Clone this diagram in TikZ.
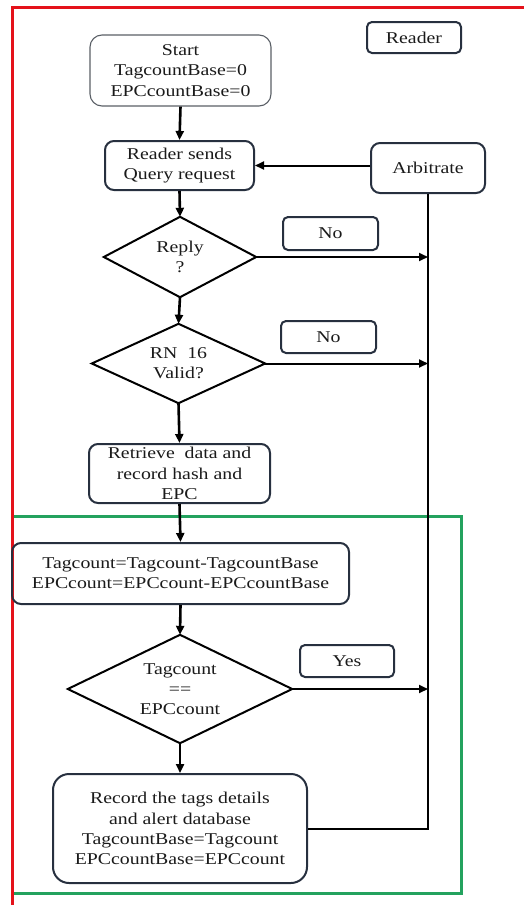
\documentclass[tikz,border=0pt]{standalone}
\usepackage{fontspec}
\setmainfont{Liberation Serif}[FakeStretch=1.2]
\usetikzlibrary{arrows.meta}
\definecolor{boxline}{HTML}{27303F}
\definecolor{startline}{HTML}{5A5F66}
\definecolor{txt}{HTML}{1A1A1A}
\definecolor{frameRed}{HTML}{E4121A}
\definecolor{frameGreen}{HTML}{23A25E}
\tikzset{
  every node/.style={font=\fontsize{16.5}{20.3}\selectfont, text=txt, align=center, inner sep=0pt},
  procbox/.style={draw=boxline, line width=2pt, rounded corners=9pt},
  startbox/.style={draw=startline, line width=1.1pt, rounded corners=12pt},
  labelbox/.style={draw=boxline, line width=2pt, rounded corners=5pt},
  decision/.style={draw=none},
  flow/.style={line width=2.6pt, -{Triangle[length=9pt,width=8pt]}},
  sideflow/.style={line width=2pt, -{Triangle[length=9pt,width=8pt]}},
  bus/.style={line width=2pt},
}
\begin{document}
\begin{tikzpicture}[x=1pt,y=-1pt]
\useasboundingbox (0,0) rectangle (524,905);

% outer frames
\draw[frameGreen, line width=3pt] (12,516) rectangle (461,893);
\draw[frameRed, line width=3pt] (524,7) -- (12,7) -- (12,905);

% nodes
\node[labelbox, minimum width=94pt, minimum height=31pt] (reader) at (414,37.5) {Reader};
\node[startbox, minimum width=181pt, minimum height=71pt] (start) at (180.5,70.5) {Start\\TagcountBase=0\\EPCcountBase=0};
\node[procbox, minimum width=149pt, minimum height=49pt] (query) at (179.5,165.5) {Reader sends\\Query request};
\node[procbox, minimum width=114pt, minimum height=50pt] (arb) at (428,168) {Arbitrate};

\node[decision, minimum width=152pt, minimum height=80pt] (reply) at (180,257) {Reply\\?};
\draw[line width=2pt, line join=miter] (reply.north) -- (reply.east) -- (reply.south) -- (reply.west) -- cycle;
\node[labelbox, minimum width=95pt, minimum height=33pt] (no1) at (330.5,233.5) {No};

\node[decision, minimum width=173pt, minimum height=79pt] (rn) at (178.5,363.5) {RN\ \ 16\\Valid?};
\draw[line width=2pt, line join=miter] (rn.north) -- (rn.east) -- (rn.south) -- (rn.west) -- cycle;
\node[labelbox, minimum width=95pt, minimum height=32pt] (no2) at (328.5,337) {No};

\node[procbox, minimum width=181pt, minimum height=59pt] (retr) at (179.5,473.5) {Retrieve\ \ data and\\record hash and\\EPC};

\node[procbox, minimum width=337pt, minimum height=61pt] (calc) at (180.5,573.5) {Tagcount=Tagcount-TagcountBase\\EPCcount=EPCcount-EPCcountBase};

\node[decision, minimum width=224pt, minimum height=108pt] (cmp) at (180,689) {Tagcount\\==\\EPCcount};
\draw[line width=2pt, line join=miter] (cmp.north) -- (cmp.east) -- (cmp.south) -- (cmp.west) -- cycle;
\node[labelbox, minimum width=94pt, minimum height=32pt] (yes) at (347,661) {Yes};

\node[procbox, minimum width=254pt, minimum height=109pt, rounded corners=16pt] (rec) at (180,828.5) {Record the tags details\\and alert database\\TagcountBase=Tagcount\\EPCcountBase=EPCcount};

% junctions on the return line
\coordinate (j1) at (arb.south |- reply.east);
\coordinate (j2) at (arb.south |- rn.east);
\coordinate (j3) at (arb.south |- cmp.east);
\coordinate (j4) at (arb.south |- rec.east);

% main flow
\draw[flow] (start.south) -- (query.north);
\draw[flow] (query.south) -- (reply.north);
\draw[flow] (reply.south) -- (rn.north);
\draw[flow] (rn.south) -- (retr.north);
\draw[flow] (retr.south) -- (calc.north);
\draw[flow] (calc.south) -- (cmp.north);
\draw[flow] (cmp.south) -- (rec.north);

% branches to the return line
\draw[sideflow] (reply.east) -- (j1);
\draw[sideflow] (rn.east) -- (j2);
\draw[sideflow] (cmp.east) -- (j3);

% return line back to the query
\draw[bus] (rec.east) -- (j4) -- (arb.south);
\draw[sideflow] (arb.west |- query.east) -- (query.east);
\end{tikzpicture}
\end{document}
